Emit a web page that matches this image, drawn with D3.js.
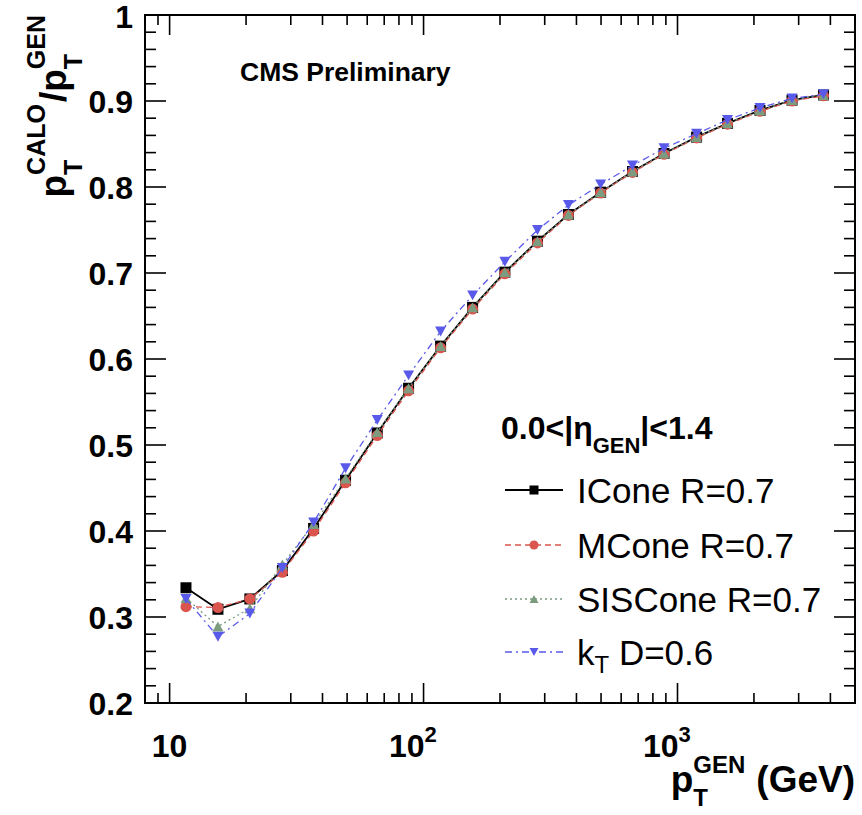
<!DOCTYPE html>
<html>
<head>
<meta charset="utf-8">
<script src="https://cdn.jsdelivr.net/npm/d3@7"></script>
<style>
  body { margin: 0; background: #fff; }
  svg { display: block; font-family: "Liberation Sans", Arial, sans-serif; }
</style>
</head>
<body>
<svg width="862" height="815"></svg>
<script>
(function (d3) {
    'use strict';

    // generated pT bin centres (GeV)
    const ptGen = [11.6, 15.5, 20.7, 27.8, 36.9, 49.3, 65.7, 87.3, 116.7, 156, 209, 281,
                   372, 498, 665, 885, 1189, 1574, 2113, 2825, 3758];
    // response pT(CALO)/pT(GEN) for each algorithm
    const icone   = [0.334, 0.309, 0.321, 0.354, 0.403, 0.459, 0.514, 0.566, 0.615, 0.660, 0.701,
                     0.737, 0.768, 0.794, 0.818, 0.839, 0.858, 0.874, 0.889, 0.901, 0.907];
    const mcone   = [0.312, 0.311, 0.321, 0.352, 0.400, 0.456, 0.511, 0.563, 0.613, 0.658, 0.699,
                     0.735, 0.767, 0.793, 0.817, 0.838, 0.857, 0.873, 0.888, 0.900, 0.906];
    const siscone = [0.322, 0.289, 0.310, 0.361, 0.408, 0.461, 0.515, 0.566, 0.615, 0.660, 0.701,
                     0.737, 0.768, 0.794, 0.818, 0.839, 0.858, 0.874, 0.889, 0.901, 0.907];
    const kt      = [0.321, 0.277, 0.304, 0.357, 0.410, 0.473, 0.529, 0.581, 0.632, 0.674, 0.713,
                     0.750, 0.779, 0.803, 0.825, 0.845, 0.862, 0.878, 0.892, 0.903, 0.908];

    const seriesNames = ['ICone R=0.7', 'MCone R=0.7', 'SISCone R=0.7', 'kT D=0.6'];
    const yTicks = [0.2, 0.3, 0.4, 0.5, 0.6, 0.7, 0.8, 0.9, 1];
    const xDecades = [10, 100, 1000];

    const svg = d3.select('svg');
    const left = 145, right = 855, top = 15, bottom = 703;

    const x = d3.scaleLog().domain([8, 5000]).range([left, right]);
    const y = d3.scaleLinear().domain([0.2, 1]).range([bottom, top]);

    const styles = [
        { color: '#000000', dash: null, marker: 'square', width: 1.8 },
        { color: '#d9554e', dash: '6,4', marker: 'circle', width: 1.3 },
        { color: '#7c9c80', dash: '2,3', marker: 'tri', width: 1.3 },
        { color: '#5a5aea', dash: '7,4,2,4', marker: 'tridown', width: 1.3 }
    ];
    const values = [icone, mcone, siscone, kt];

    // ticks, ROOT style (inside the frame, on all four sides)
    const yMinor = d3.range(0.2, 1.0001, 0.02);
    const tickG = svg.append('g').attr('stroke', '#000').attr('stroke-width', 1.6);
    yMinor.forEach(v => {
        const major = Math.abs(v * 10 - Math.round(v * 10)) < 1e-6;
        const len = major ? 21 : 11;
        tickG.append('line').attr('x1', left).attr('x2', left + len).attr('y1', y(v)).attr('y2', y(v));
        tickG.append('line').attr('x1', right).attr('x2', right - len).attr('y1', y(v)).attr('y2', y(v));
    });
    const xMinor = [9].concat(d3.range(2, 10).map(d => d * 10), d3.range(2, 10).map(d => d * 100),
                              d3.range(2, 5).map(d => d * 1000));
    xMinor.forEach(v => {
        tickG.append('line').attr('x1', x(v)).attr('x2', x(v)).attr('y1', bottom).attr('y2', bottom - 10);
        tickG.append('line').attr('x1', x(v)).attr('x2', x(v)).attr('y1', top).attr('y2', top + 10);
    });
    xDecades.forEach(v => {
        tickG.append('line').attr('x1', x(v)).attr('x2', x(v)).attr('y1', bottom).attr('y2', bottom - 20);
        tickG.append('line').attr('x1', x(v)).attr('x2', x(v)).attr('y1', top).attr('y2', top + 20);
    });

    // frame
    svg.append('rect').attr('x', left).attr('y', top)
        .attr('width', right - left).attr('height', bottom - top)
        .attr('fill', 'none').attr('stroke', '#000').attr('stroke-width', 2);

    // y tick labels
    svg.append('g').selectAll('text').data(yTicks).enter().append('text')
        .attr('x', 133).attr('y', d => d === 1 ? y(d) + 13 : y(d) + 11.5)
        .attr('text-anchor', 'end').attr('font-size', 32).attr('font-weight', 'bold')
        .text(d => d === 1 ? '1' : d3.format('.1f')(d));

    // x tick labels
    xDecades.forEach((v, i) => {
        const t = svg.append('text').attr('y', 757).attr('font-size', 32).attr('font-weight', 'bold');
        if (i === 0) {
            t.attr('x', x(v)).attr('text-anchor', 'middle').text('10');
        } else {
            t.attr('x', x(v) + 1).attr('text-anchor', 'end').text('10');
            svg.append('text').attr('x', x(v) + 1).attr('y', 742)
                .attr('font-size', 22).attr('font-weight', 'bold').text(String(i + 1));
        }
    });

    // text with stacked sub/superscripts, returns width
    function richText(g, parts, size, sSize, supDy, subDy) {
        let cx = 0;
        parts.forEach(p => {
            if (p.t) {
                const t = g.append('text').attr('x', cx).attr('y', 0)
                    .attr('font-size', size).attr('font-weight', 'bold').text(p.t);
                cx += t.node().getComputedTextLength();
            } else {
                let w = 0;
                if (p.sup) {
                    const t = g.append('text').attr('x', cx).attr('y', supDy)
                        .attr('font-size', sSize).attr('font-weight', 'bold').text(p.sup);
                    w = Math.max(w, t.node().getComputedTextLength());
                }
                if (p.sub) {
                    const t = g.append('text').attr('x', cx).attr('y', subDy)
                        .attr('font-size', sSize).attr('font-weight', 'bold').text(p.sub);
                    w = Math.max(w, t.node().getComputedTextLength());
                }
                cx += w + (p.gap || 0);
            }
        });
        return cx;
    }

    // y axis title (rotated, right-aligned to top of frame)
    const yt = svg.append('g');
    const ytw = richText(yt, [{ t: 'p' }, { sub: 'T', sup: 'CALO', gap: 2 }, { t: '/p' }, { sub: 'T', sup: 'GEN' }],
        37, 25, -21, 16);
    yt.attr('transform', `translate(66,${top + ytw}) rotate(-90)`);

    // x axis title
    const xt = svg.append('g');
    const xtw = richText(xt, [{ t: 'p' }, { sub: 'T', sup: 'GEN', gap: 11 }, { t: '(GeV)' }],
        37, 24, -19, 14);
    xt.attr('transform', `translate(${right - xtw},792)`);

    // CMS Preliminary
    svg.append('text').attr('x', 240).attr('y', 81)
        .attr('font-size', 26.5).attr('font-weight', 'bold').text('CMS Preliminary');

    // markers
    function drawMarker(g, type, cx, cy, s, color) {
        if (type === 'square') {
            g.append('rect').attr('x', cx - s / 2).attr('y', cy - s / 2)
                .attr('width', s).attr('height', s).attr('fill', color);
        } else if (type === 'circle') {
            g.append('circle').attr('cx', cx).attr('cy', cy).attr('r', s / 2).attr('fill', color);
        } else {
            const h = s * 0.9, sgn = type === 'tri' ? 1 : -1;
            const pts = [[cx, cy - sgn * h / 2], [cx - s / 2, cy + sgn * h / 2], [cx + s / 2, cy + sgn * h / 2]];
            g.append('polygon').attr('points', pts.map(p => p.join(',')).join(' ')).attr('fill', color);
        }
    }

    const line = d3.line().x(d => x(d[0])).y(d => y(d[1]));
    values.forEach((vals, i) => {
        const st = styles[i];
        const pts = ptGen.map((p, j) => [p, vals[j]]);
        const g = svg.append('g');
        g.append('path').attr('d', line(pts)).attr('fill', 'none')
            .attr('stroke', st.color).attr('stroke-width', st.width)
            .attr('stroke-dasharray', st.dash);
        pts.forEach(p => drawMarker(g, st.marker, x(p[0]), y(p[1]), 11, st.color));
    });

    // legend
    const lg = svg.append('g');
    const hdr = lg.append('g').attr('transform', 'translate(501,439)');
    richText(hdr, [{ t: '0.0<|\u03b7' }, { sub: 'GEN' }, { t: '|<1.4' }], 32, 22, -15, 14);

    const rowY = [490, 545, 599, 652];
    seriesNames.forEach((name, i) => {
        const st = styles[i];
        const yy = rowY[i];
        lg.append('line').attr('x1', 505).attr('x2', 563).attr('y1', yy).attr('y2', yy)
            .attr('stroke', st.color).attr('stroke-width', st.width)
            .attr('stroke-dasharray', st.dash);
        drawMarker(lg, st.marker, 534, yy, 9, st.color);
        if (i === 3) {
            const t = lg.append('text').attr('x', 577).attr('y', yy + 13)
                .attr('font-size', 35);
            t.append('tspan').text('k');
            t.append('tspan').attr('font-size', 24).attr('dy', 8).text('T');
            t.append('tspan').attr('dy', -8).text(' D=0.6');
        } else {
            lg.append('text').attr('x', 577).attr('y', yy + 13)
                .attr('font-size', 35).text(name);
        }
    });
}(d3));
</script>
</body>
</html>
